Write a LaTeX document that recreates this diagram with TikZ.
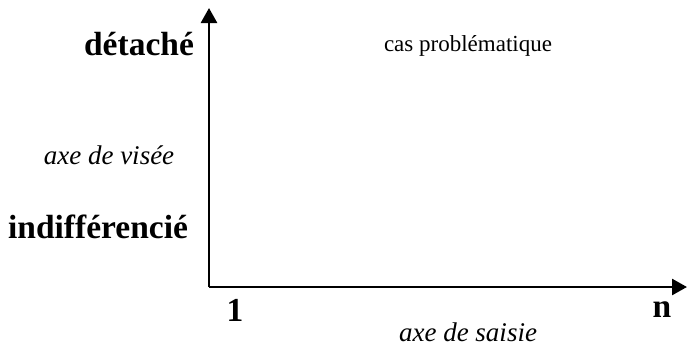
\documentclass[tikz,border=0pt]{standalone}
\usepackage{fontspec}
\setmainfont{Liberation Serif}
\usetikzlibrary{arrows.meta}

\begin{document}
\begin{tikzpicture}[x=1pt,y=-1pt,
  axe/.style={line width=2.6pt,-{Triangle[length=15pt,width=16pt]}},
  pole/.style={font=\fontsize{33.5}{36}\selectfont\bfseries,inner sep=0pt},
  titre/.style={font=\fontsize{27}{30}\selectfont\itshape,inner sep=0pt},
  cas/.style={font=\fontsize{23}{27}\selectfont,inner sep=0pt}]
\useasboundingbox (0,0) rectangle (687,349);
\coordinate (o) at (209,287);
\coordinate (haut) at (209,8);
\coordinate (droite) at (687,287);
\draw[axe] (o)--(haut);
\draw[axe] (o)--(droite);
\node[pole] (detache) at (139,44) {détaché};
\node[pole] (indiff) at (98,227) {indifférencié};
\node[titre] (visee) at (109,155) {axe de visée};
\node[cas] (probleme) at (468,46) {cas problématique};
\node[pole] (un) at (235,310) {1};
\node[pole] (enne) at (662,310) {n};
\node[titre] (saisie) at (468,332) {axe de saisie};
\end{tikzpicture}
\end{document}
